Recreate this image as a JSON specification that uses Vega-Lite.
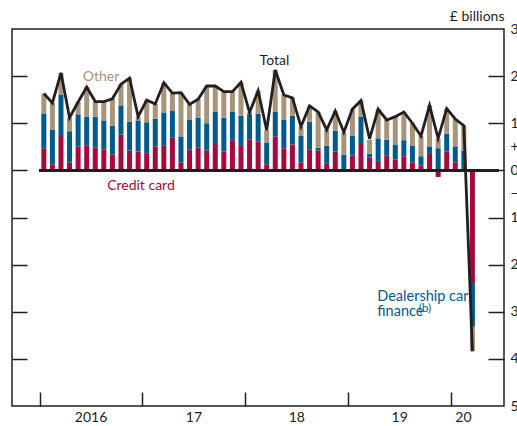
{
  "$schema": "https://vega.github.io/schema/vega-lite/v6.json",
  "width": 492,
  "height": 377,
  "autosize": {"type": "none"},
  "padding": {"left": 12, "top": 29, "right": 13, "bottom": 20},
  "background": "white",
  "config": {
    "view": {"stroke": "#231F20", "strokeWidth": 1.5},
    "font": "Lato",
    "axis": {"labelFont": "Lato", "titleFont": "Lato"}
  },
  "data": {
    "values": [
      {"t": 0, "month": "2016-01", "Credit card": 0.47, "Dealership car finance": 0.74, "Other": 0.42, "total": 1.63},
      {"t": 1, "month": "2016-02", "Credit card": 0.13, "Dealership car finance": 0.73, "Other": 0.57, "total": 1.43},
      {"t": 2, "month": "2016-03", "Credit card": 0.73, "Dealership car finance": 0.88, "Other": 0.45, "total": 2.07},
      {"t": 3, "month": "2016-04", "Credit card": 0.17, "Dealership car finance": 0.66, "Other": 0.29, "total": 1.12},
      {"t": 4, "month": "2016-05", "Credit card": 0.51, "Dealership car finance": 0.68, "Other": 0.26, "total": 1.45},
      {"t": 5, "month": "2016-06", "Credit card": 0.52, "Dealership car finance": 0.62, "Other": 0.63, "total": 1.77},
      {"t": 6, "month": "2016-07", "Credit card": 0.48, "Dealership car finance": 0.66, "Other": 0.32, "total": 1.46},
      {"t": 7, "month": "2016-08", "Credit card": 0.44, "Dealership car finance": 0.62, "Other": 0.40, "total": 1.46},
      {"t": 8, "month": "2016-09", "Credit card": 0.34, "Dealership car finance": 0.61, "Other": 0.57, "total": 1.52},
      {"t": 9, "month": "2016-10", "Credit card": 0.76, "Dealership car finance": 0.62, "Other": 0.45, "total": 1.83},
      {"t": 10, "month": "2016-11", "Credit card": 0.42, "Dealership car finance": 0.61, "Other": 0.93, "total": 1.96},
      {"t": 11, "month": "2016-12", "Credit card": 0.40, "Dealership car finance": 0.66, "Other": 0.08, "total": 1.14},
      {"t": 12, "month": "2017-01", "Credit card": 0.35, "Dealership car finance": 0.67, "Other": 0.47, "total": 1.49},
      {"t": 13, "month": "2017-02", "Credit card": 0.51, "Dealership car finance": 0.59, "Other": 0.31, "total": 1.41},
      {"t": 14, "month": "2017-03", "Credit card": 0.52, "Dealership car finance": 0.71, "Other": 0.63, "total": 1.86},
      {"t": 15, "month": "2017-04", "Credit card": 0.69, "Dealership car finance": 0.57, "Other": 0.38, "total": 1.64},
      {"t": 16, "month": "2017-05", "Credit card": 0.17, "Dealership car finance": 0.55, "Other": 0.93, "total": 1.65},
      {"t": 17, "month": "2017-06", "Credit card": 0.44, "Dealership car finance": 0.63, "Other": 0.33, "total": 1.40},
      {"t": 18, "month": "2017-07", "Credit card": 0.48, "Dealership car finance": 0.64, "Other": 0.39, "total": 1.51},
      {"t": 19, "month": "2017-08", "Credit card": 0.42, "Dealership car finance": 0.58, "Other": 0.79, "total": 1.79},
      {"t": 20, "month": "2017-09", "Credit card": 0.56, "Dealership car finance": 0.68, "Other": 0.55, "total": 1.79},
      {"t": 21, "month": "2017-10", "Credit card": 0.40, "Dealership car finance": 0.72, "Other": 0.55, "total": 1.67},
      {"t": 22, "month": "2017-11", "Credit card": 0.64, "Dealership car finance": 0.60, "Other": 0.43, "total": 1.67},
      {"t": 23, "month": "2017-12", "Credit card": 0.52, "Dealership car finance": 0.64, "Other": 0.71, "total": 1.87},
      {"t": 24, "month": "2018-01", "Credit card": 0.65, "Dealership car finance": 0.54, "Other": 0.04, "total": 1.23},
      {"t": 25, "month": "2018-02", "Credit card": 0.61, "Dealership car finance": 0.59, "Other": 0.49, "total": 1.69},
      {"t": 26, "month": "2018-03", "Credit card": 0.13, "Dealership car finance": 0.46, "Other": 0.26, "total": 0.85},
      {"t": 27, "month": "2018-04", "Credit card": 0.72, "Dealership car finance": 0.52, "Other": 0.89, "total": 2.13},
      {"t": 28, "month": "2018-05", "Credit card": 0.47, "Dealership car finance": 0.60, "Other": 0.53, "total": 1.60},
      {"t": 29, "month": "2018-06", "Credit card": 0.55, "Dealership car finance": 0.61, "Other": 0.38, "total": 1.54},
      {"t": 30, "month": "2018-07", "Credit card": 0.17, "Dealership car finance": 0.56, "Other": 0.20, "total": 0.93},
      {"t": 31, "month": "2018-08", "Credit card": 0.44, "Dealership car finance": 0.59, "Other": 0.34, "total": 1.37},
      {"t": 32, "month": "2018-09", "Credit card": 0.42, "Dealership car finance": 0.06, "Other": 0.76, "total": 1.24},
      {"t": 33, "month": "2018-10", "Credit card": 0.14, "Dealership car finance": 0.38, "Other": 0.34, "total": 0.86},
      {"t": 34, "month": "2018-11", "Credit card": 0.40, "Dealership car finance": 0.44, "Other": 0.42, "total": 1.26},
      {"t": 35, "month": "2018-12", "Credit card": 0.02, "Dealership car finance": 0.31, "Other": 0.48, "total": 0.81},
      {"t": 36, "month": "2019-01", "Credit card": 0.31, "Dealership car finance": 0.42, "Other": 0.57, "total": 1.30},
      {"t": 37, "month": "2019-02", "Credit card": 0.56, "Dealership car finance": 0.58, "Other": 0.34, "total": 1.48},
      {"t": 38, "month": "2019-03", "Credit card": 0.27, "Dealership car finance": 0.08, "Other": 0.30, "total": 0.67},
      {"t": 39, "month": "2019-04", "Credit card": 0.18, "Dealership car finance": 0.50, "Other": 0.62, "total": 1.30},
      {"t": 40, "month": "2019-05", "Credit card": 0.31, "Dealership car finance": 0.34, "Other": 0.42, "total": 1.07},
      {"t": 41, "month": "2019-06", "Credit card": 0.23, "Dealership car finance": 0.32, "Other": 0.59, "total": 1.14},
      {"t": 42, "month": "2019-07", "Credit card": 0.30, "Dealership car finance": 0.34, "Other": 0.60, "total": 1.24},
      {"t": 43, "month": "2019-08", "Credit card": 0.17, "Dealership car finance": 0.35, "Other": 0.48, "total": 1.00},
      {"t": 44, "month": "2019-09", "Credit card": 0.10, "Dealership car finance": 0.20, "Other": 0.43, "total": 0.73},
      {"t": 45, "month": "2019-10", "Credit card": 0.35, "Dealership car finance": 0.16, "Other": 0.87, "total": 1.38},
      {"t": 46, "month": "2019-11", "Credit card": -0.14, "Dealership car finance": 0.47, "Other": 0.21, "total": 0.68},
      {"t": 47, "month": "2019-12", "Credit card": 0.40, "Dealership car finance": 0.38, "Other": 0.53, "total": 1.31},
      {"t": 48, "month": "2020-01", "Credit card": 0.17, "Dealership car finance": 0.34, "Other": 0.58, "total": 1.09},
      {"t": 49, "month": "2020-02", "Credit card": 0.01, "Dealership car finance": 0.41, "Other": 0.53, "total": 0.95},
      {"t": 50, "month": "2020-03", "Credit card": -2.39, "Dealership car finance": -0.93, "Other": -0.51, "total": -3.84}
    ]
  },
  "encoding": {
    "x": {
      "field": "t",
      "type": "quantitative",
      "scale": {"domain": [-3.13, 53.1], "nice": false, "zero": false},
      "axis": {
        "title": null,
        "values": [-0.5, 11.5, 23.5, 35.5, 47.5],
        "labelExpr": "datum.value < 0 ? '2016' : datum.value < 12 ? '17' : datum.value < 24 ? '18' : datum.value < 36 ? '19' : '20'",
        "domain": false,
        "grid": false,
        "tickSize": -14,
        "tickColor": "#231F20",
        "tickWidth": 1.5,
        "labelPadding": 18,
        "labelOffset": {"condition": {"test": "datum.value > 47", "value": 12}, "value": 51},
        "labelBaseline": "top",
        "labelAlign": "center",
        "labelFontSize": 14,
        "labelFontWeight": "normal",
        "labelColor": "#231F20",
        "labelFlush": false,
        "labelOverlap": false
      }
    }
  },
  "layer": [
    {
      "transform": [{"fold": ["Credit card", "Dealership car finance", "Other"], "as": ["series", "value"]}],
      "mark": {"type": "bar", "size": 5},
      "encoding": {
        "y": {
          "field": "value",
          "type": "quantitative",
          "stack": "zero",
          "scale": {"domain": [-5, 3], "nice": false, "zero": false},
          "axis": {
            "orient": "left",
            "title": null,
            "values": [2, 1, 0, -1, -2, -3, -4],
            "labels": false,
            "domain": false,
            "grid": false,
            "tickSize": -15,
            "tickColor": "#231F20",
            "tickWidth": 1.5
          }
        },
        "color": {
          "field": "series",
          "type": "nominal",
          "scale": {
            "domain": ["Credit card", "Dealership car finance", "Other", "Total"],
            "range": ["#A6093D", "#005A8C", "#A8937B", "#231F20"]
          },
          "legend": null
        },
        "order": {"field": "series", "sort": "ascending"}
      }
    },
    {
      "mark": {"type": "rule", "stroke": "#231F20", "strokeWidth": 1.5},
      "encoding": {
        "x": {"datum": -0.5, "type": "quantitative"},
        "x2": {"datum": 53.1},
        "y": {"datum": 0, "type": "quantitative", "axis": null}
      }
    },
    {
      "mark": {"type": "line", "stroke": "#231F20", "strokeWidth": 2.8, "strokeJoin": "miter"},
      "encoding": {
        "y": {
          "field": "total",
          "type": "quantitative",
          "axis": {
            "orient": "right",
            "values": [3, 2, 1, 0.5, 0, -0.5, -1, -2, -3, -4, -5],
            "labelExpr": "datum.value == 0.5 ? '+' : datum.value == -0.5 ? '−' : format(abs(datum.value), 'd')",
            "domain": false,
            "grid": false,
            "tickSize": -16,
            "tickColor": "#231F20",
            "tickWidth": 1.5,
            "tickOpacity": {"condition": {"test": "datum.value == 0.5 || datum.value == -0.5 || datum.value == 3 || datum.value == -5", "value": 0}, "value": 1},
            "labelPadding": 22,
            "labelAlign": "left",
            "labelBaseline": "middle",
            "labelFontSize": 14,
            "labelFontWeight": "normal",
            "labelColor": "#231F20",
            "labelFlush": false,
            "labelOverlap": false,
            "title": "£ billions",
            "titleAngle": 0,
            "titleAlign": "right",
            "titleBaseline": "alphabetic",
            "titleX": 0,
            "titleY": -9,
            "titleFontSize": 14,
            "titleFontWeight": "normal",
            "titleColor": "#231F20"
          }
        }
      }
    },
    {
      "data": {
        "values": [
          {"t": 26.9, "v": 2.23, "series": "Total", "label": "Total"},
          {"t": 6.67, "v": 1.89, "series": "Other", "label": "Other"},
          {"t": 11.33, "v": -0.42, "series": "Credit card", "label": "Credit card"}
        ]
      },
      "mark": {"type": "text", "align": "center", "baseline": "alphabetic", "fontSize": 14, "fontWeight": "normal", "font": "Lato"},
      "encoding": {
        "y": {"field": "v", "type": "quantitative", "axis": null},
        "text": {"field": "label"},
        "color": {"field": "series", "type": "nominal", "legend": null}
      }
    },
    {
      "data": {
        "values": [
          {"t": 38.9, "v": -2.78, "series": "Dealership car finance", "label": "Dealership car"},
          {"t": 38.9, "v": -3.1, "series": "Dealership car finance", "label": "finance"}
        ]
      },
      "mark": {"type": "text", "align": "left", "baseline": "alphabetic", "fontSize": 14.5, "fontWeight": "normal", "font": "Lato"},
      "encoding": {
        "y": {"field": "v", "type": "quantitative", "axis": null},
        "text": {"field": "label"},
        "color": {"field": "series", "type": "nominal", "legend": null}
      }
    },
    {
      "data": {
        "values": [
          {"t": 43.75, "v": -3.01, "series": "Dealership car finance", "label": "(b)"}
        ]
      },
      "mark": {"type": "text", "align": "left", "baseline": "alphabetic", "fontSize": 11.5, "fontWeight": "normal", "font": "Lato"},
      "encoding": {
        "y": {"field": "v", "type": "quantitative", "axis": null},
        "text": {"field": "label"},
        "color": {"field": "series", "type": "nominal", "legend": null}
      }
    }
  ],
  "resolve": {"axis": {"y": "independent"}}
}
